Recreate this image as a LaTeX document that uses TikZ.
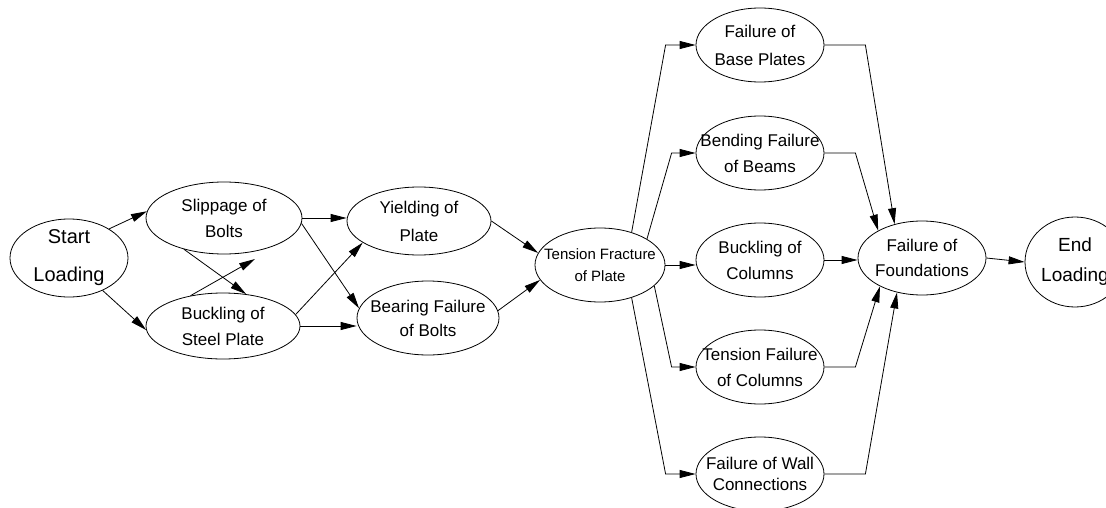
\documentclass[tikz,border=0pt]{standalone}
\usepackage{fontspec}
\setmainfont{Liberation Sans}
\usepackage{tikz}
\usetikzlibrary{arrows.meta,shapes.geometric}
\tikzset{
  ev/.style={ellipse,draw,line width=0.8pt,inner sep=-40pt,align=center,
    minimum width=128pt,minimum height=74pt,font=\fontsize{17}{26}\selectfont},
  ar/.style={line width=0.8pt,-{Triangle[length=16pt,width=8pt]}}
}
\begin{document}
\begin{tikzpicture}[x=1pt,y=-1pt]
\clip (0,0) rectangle (1106,508);
% loading stages
\node[ev,minimum width=118pt,minimum height=78pt,font=\fontsize{20}{38}\selectfont] (start) at (69,258) {Start\\Loading};
\node[ev,minimum width=156pt,minimum height=72pt] (slip) at (224,218) {Slippage of\\Bolts};
\node[ev,minimum width=154pt,minimum height=66pt] (buck) at (223,326) {Buckling of\\Steel Plate};
\node[ev,minimum width=144pt,minimum height=68pt,font=\fontsize{17}{28}\selectfont] (yield) at (419,221) {Yielding of\\Plate};
\node[ev,minimum width=142pt,font=\fontsize{17}{24}\selectfont] (bear) at (428,318) {Bearing Failure\\of Bolts};
\node[ev,minimum width=130pt,font=\fontsize{15}{22}\selectfont] (tfp) at (600,265) {Tension Fracture\\of Plate};
% failure modes
\node[ev,font=\fontsize{17}{28}\selectfont] (base) at (760,45) {Failure of\\Base Plates};
\node[ev] (bend) at (760,153) {Bending Failure\\of Beams};
\node[ev] (bcol) at (760,260) {Buckling of\\Columns};
\node[ev] (tcol) at (760,367) {Tension Failure\\of Columns};
\node[ev,font=\fontsize{17}{21}\selectfont] (wall) at (760,474) {Failure of Wall\\Connections};
\node[ev,font=\fontsize{17}{25}\selectfont] (found) at (922,258) {Failure of\\Foundations};
\node[ev,minimum width=100pt,minimum height=90pt,font=\fontsize{19}{30}\selectfont] (endl) at (1075,262) {End\\Loading};
\coordinate (bfree) at (255,259);
% connectors
\draw[ar] (start.36) -- (slip.175);
\draw[ar] (start.-44) -- (buck.183);
\draw[ar] (slip.218) -- (buck.54);
\draw[ar] (buck.137) -- (bfree);
\draw[ar] (slip.east) -- (slip.east -| yield.west);
\draw[ar] (slip.-4) -- (bear.172);
\draw[ar] (buck.9) -- (yield.201);
\draw[ar] (buck.east) -- (buck.east -| bear.west);
\draw[ar] (yield.east) -- (tfp.169);
\draw[ar] (bear.6) -- (tfp.194);
\draw[ar] (tfp.46) -- ([xshift=-30pt]base.west) -- (base.west);
\draw[ar] (tfp.29) -- ([xshift=-24pt]bend.west) -- (bend.west);
\draw[ar] (tfp.east) -- (tfp.east -| bcol.west);
\draw[ar] (tfp.-21) -- ([xshift=-24pt]tcol.west) -- (tcol.west);
\draw[ar] (tfp.-46) -- ([xshift=-30pt]wall.west) -- (wall.west);
\draw[ar] (base.east) -- ([xshift=41pt]base.east) -- (found.129);
\draw[ar] (bend.east) -- ([xshift=31pt]bend.east) -- (found.148);
\draw[ar] (bcol.east) -- (bcol.east -| found.west);
\draw[ar] (tcol.east) -- ([xshift=31pt]tcol.east) -- (found.214);
\draw[ar] (wall.east) -- ([xshift=41pt]wall.east) -- (found.234);
\draw[ar] (found.east) -- (endl.west);
\end{tikzpicture}
\end{document}
